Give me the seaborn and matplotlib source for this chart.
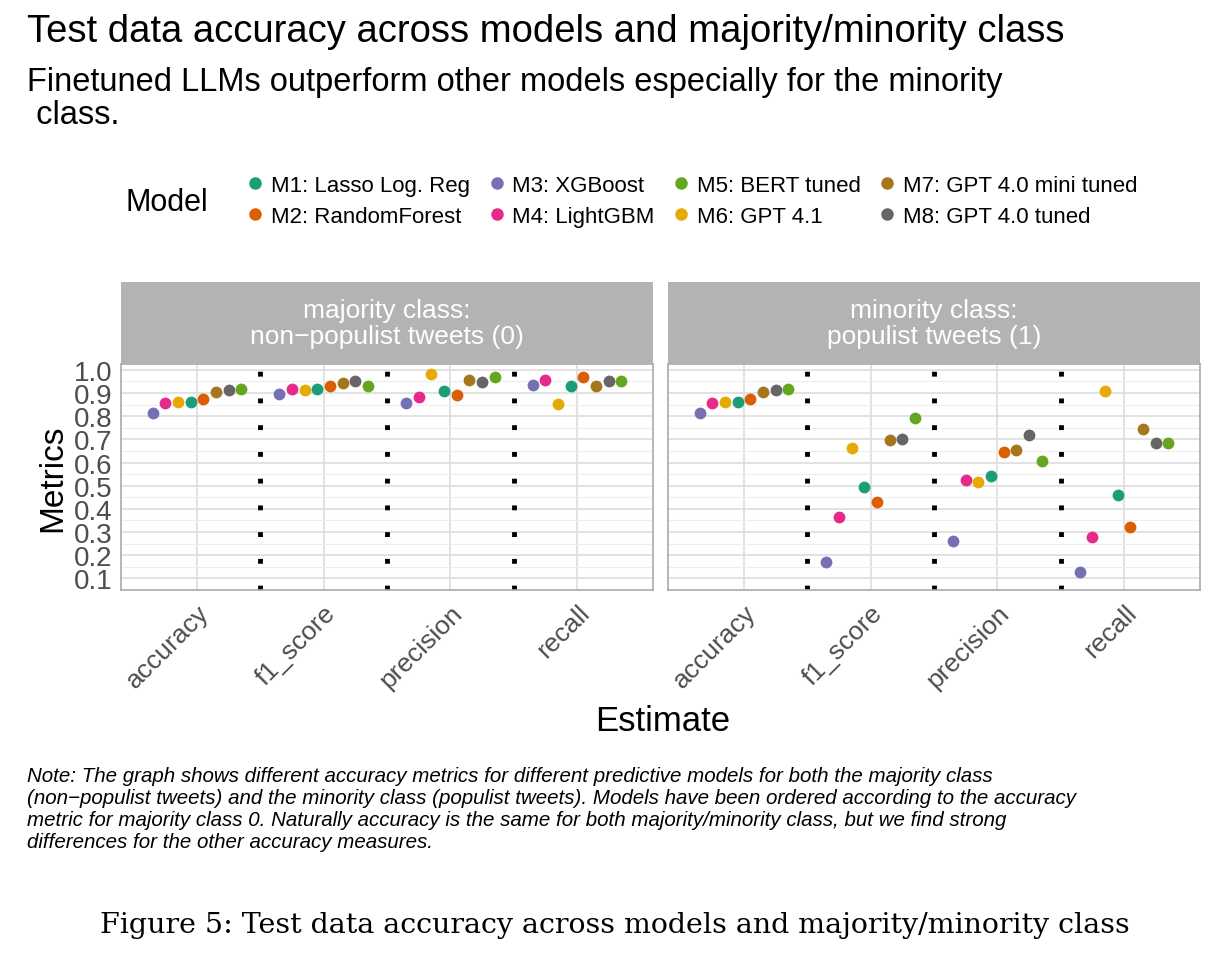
import pandas as pd
import matplotlib.pyplot as plt
import seaborn as sns

metrics = ["accuracy", "f1_score", "precision", "recall"]
models = ["M1: Lasso Log. Reg", "M2: RandomForest", "M3: XGBoost", "M4: LightGBM",
          "M5: BERT tuned", "M6: GPT 4.1", "M7: GPT 4.0 mini tuned", "M8: GPT 4.0 tuned"]
# dodge order = ordered by majority accuracy
model_order = ["M3: XGBoost", "M4: LightGBM", "M6: GPT 4.1", "M1: Lasso Log. Reg",
               "M2: RandomForest", "M7: GPT 4.0 mini tuned", "M8: GPT 4.0 tuned", "M5: BERT tuned"]
colors = ["#1B9E77", "#D95F02", "#7570B3", "#E7298A", "#66A61E", "#E6AB02", "#A6761D", "#666666"]

# values per model (M1..M8), for accuracy, f1, precision, recall
majority = {
    "accuracy":  [0.860, 0.872, 0.814, 0.855, 0.919, 0.860, 0.904, 0.913],
    "f1_score":  [0.918, 0.928, 0.894, 0.918, 0.930, 0.913, 0.943, 0.950],
    "precision": [0.909, 0.890, 0.858, 0.884, 0.969, 0.982, 0.955, 0.946],
    "recall":    [0.931, 0.969, 0.934, 0.956, 0.950, 0.853, 0.931, 0.953],
}
minority = {
    "accuracy":  [0.860, 0.872, 0.814, 0.855, 0.919, 0.860, 0.904, 0.913],
    "f1_score":  [0.496, 0.430, 0.172, 0.364, 0.790, 0.661, 0.697, 0.700],
    "precision": [0.542, 0.645, 0.260, 0.524, 0.607, 0.517, 0.655, 0.717],
    "recall":    [0.460, 0.323, 0.128, 0.278, 0.686, 0.910, 0.745, 0.686],
}

def to_long(d):
    rows = []
    for m in metrics:
        for name, v in zip(models, d[m]):
            rows.append({"Estimate": m, "Metrics": v, "Model": name})
    return pd.DataFrame(rows)

sns.set_theme(style="whitegrid")
plt.rcParams["font.family"] = ["Liberation Sans", "DejaVu Sans"]

fig = plt.figure(figsize=(12.17, 9.54), dpi=100)
W, H = 1217, 954
palette = dict(zip(models, colors))

panels = [(121, majority, "majority class:\nnon\u2212populist tweets (0)"),
          (668, minority, "minority class:\npopulist tweets (1)")]
for i, (x0, data, label) in enumerate(panels):
    ax = fig.add_axes([x0 / W, 1 - 591 / H, 532 / W, 226 / H])
    sns.stripplot(data=to_long(data), x="Estimate", y="Metrics", hue="Model",
                  hue_order=model_order, palette=palette, dodge=True, jitter=False,
                  size=8.5, order=metrics, ax=ax, legend=False, zorder=3)
    for xv in [0.5, 1.5, 2.5]:
        ax.axvline(xv, color="black", linestyle=(0, (1, 4.5)), linewidth=3.5, zorder=2)
    ax.set_ylim(0.085, 1.025)
    ax.set_xlim(-0.6, 3.6)
    ax.set_yticks([0.1 * k for k in range(1, 11)])
    ax.set_yticks([0.05 + 0.1 * k for k in range(0, 10)], minor=True)
    ax.grid(True, which="major", color="#DDDDDD", linewidth=1.2)
    ax.grid(True, which="minor", color="#EEEEEE", linewidth=0.8)
    for s in ax.spines.values():
        s.set_color("#AAAAAA")
        s.set_linewidth(1.2)
    ax.tick_params(axis="x", labelrotation=45, labelsize=19, colors="#4D4D4D", length=4)
    ax.tick_params(axis="y", labelsize=20, colors="#4D4D4D", length=4, pad=2)
    for t in ax.get_xticklabels():
        t.set_ha("right")
        t.set_rotation_mode("anchor")
    ax.set_xlabel("")
    if i == 0:
        ax.set_yticklabels([f"{0.1 * k:.1f}" for k in range(1, 11)])
        ax.set_ylabel("Metrics", fontsize=24, color="black", labelpad=4)
    else:
        ax.set_yticklabels([])
        ax.set_ylabel("")
    sax = fig.add_axes([x0 / W, 1 - 365 / H, 532 / W, 82 / H])
    sax.set_facecolor("#B3B3B3")
    sax.set_xticks([])
    sax.set_yticks([])
    for s in sax.spines.values():
        s.set_visible(False)
    sax.text(0.5, 0.5, label, ha="center", va="center", color="white", fontsize=19,
             linespacing=1.15, transform=sax.transAxes)

fig.text(663 / W, 1 - 722 / H, "Estimate", ha="center", va="center", fontsize=25, color="black")

fig.text(27 / W, 1 - 32 / H, "Test data accuracy across models and majority/minority class",
         fontsize=27.5, va="center", color="black")
fig.text(27 / W, 1 - 99 / H, "Finetuned LLMs outperform other models especially for the minority\n class.",
         fontsize=23.5, va="center", linespacing=1.1, color="black")

handles = [plt.Line2D([], [], marker="o", linestyle="", color=c, markersize=8) for c in colors]
fig.legend(handles, models, ncol=4, loc="center left", bbox_to_anchor=(222 / W, 1 - 202 / H),
           frameon=False, fontsize=16, handletextpad=0.1, columnspacing=0.6,
           labelspacing=0.45, handlelength=1.2, labelcolor="black")
fig.text(125 / W, 1 - 203 / H, "Model", fontsize=22, va="center", color="black")

note = ("Note: The graph shows different accuracy metrics for different predictive models for both the majority class\n"
        "(non\u2212populist tweets) and the minority class (populist tweets). Models have been ordered according to the accuracy\n"
        "metric for majority class 0. Naturally accuracy is the same for both majority/minority class, but we find strong\n"
        "differences for the other accuracy measures.")
fig.text(27 / W, 1 - 810 / H, note, fontsize=14.8, style="italic", va="center", linespacing=1.2,
         color="black")

fig.text(615 / W, 1 - 926 / H, "Figure 5: Test data accuracy across models and majority/minority class",
         fontsize=20.5, ha="center", va="center", family=["DejaVu Serif"], color="black")

fig.savefig("out.png", dpi=100)
